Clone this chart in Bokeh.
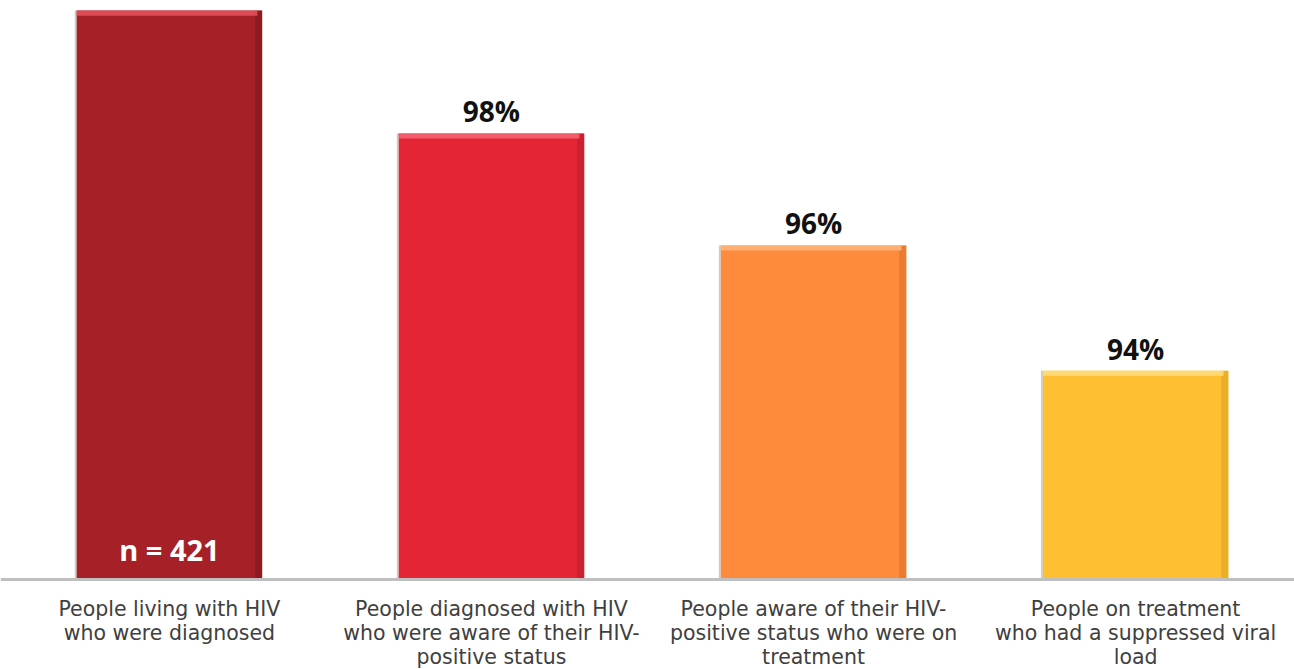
from bokeh.plotting import figure
from bokeh.models import Range1d, ColumnDataSource
from bokeh.core.properties import value
from bokeh.embed import file_html
from bokeh.resources import INLINE

# ---- data ----
categories = [
    "People living with HIV\nwho were diagnosed",
    "People diagnosed with HIV\nwho were aware of their HIV-\npositive status",
    "People aware of their HIV-\npositive status who were on\ntreatment",
    "People on treatment\nwho had a suppressed viral\nload",
]
bar_heights = [100.0, 78.4, 58.7, 36.7]  # relative bar heights
value_labels = ["", "98%", "96%", "94%"]
n_label = "n = 421"
colors = ["#A52027", "#E42536", "#FE8A3B", "#FFBF33"]
edge_light = ["#E0505A", "#F26470", "#FFB27A", "#FFDC7A"]
edge_dark = ["#7E171C", "#B81C2A", "#D9702A", "#D9A020"]

W, H = 1294, 669
FONT = "Open Sans"
LFONT = "DejaVu Sans"

xs = list(range(len(categories)))
bw = 0.576

p = figure(width=W, height=H, output_backend="svg", toolbar_location=None,
           x_range=Range1d(-0.5244, 3.4933), y_range=Range1d(-15.82, 101.76),
           min_border=0, min_border_left=0, min_border_right=0,
           min_border_top=0, min_border_bottom=0)
p.axis.visible = False
p.grid.visible = False
p.outline_line_color = None
p.background_fill_color = "white"
p.border_fill_color = "white"

src = ColumnDataSource(dict(x=xs, top=bar_heights, color=colors))

# soft shadow on left edge
p.quad(left=[x - bw / 2 - 0.006 for x in xs], right=[x - bw / 2 for x in xs],
       bottom=0, top=bar_heights, fill_color="#9A9A9A", fill_alpha=0.5, line_color=None)
# main bars
p.vbar(x="x", top="top", bottom=0, width=bw, fill_color="color", line_color=None, source=src)
# right darker bevel
p.quad(left=[x + bw / 2 - 0.022 for x in xs], right=[x + bw / 2 for x in xs],
       bottom=0, top=bar_heights, fill_color=edge_dark, fill_alpha=0.55, line_color=None)
# top lighter bevel
p.quad(left=[x - bw / 2 for x in xs], right=[x + bw / 2 - 0.015 for x in xs],
       bottom=[h - 0.9 for h in bar_heights], top=bar_heights,
       fill_color=edge_light, fill_alpha=0.9, line_color=None)

# baseline
p.segment(x0=[-0.5244], x1=[3.4933], y0=[0], y1=[0], line_color="#BFBFBF", line_width=3)

# value labels above bars
vx = [x for x, t in zip(xs, value_labels) if t]
vy = [h + 0.55 for h, t in zip(bar_heights, value_labels) if t]
vt = [t for t in value_labels if t]
p.text(x=vx, y=vy, text=vt, text_font=value(FONT), text_font_style="bold",
       text_font_size="28px", text_color="#111111", text_align="center",
       text_baseline="bottom")

# n label inside first bar
p.text(x=[xs[0]], y=[bar_heights[0] * 0.052], text=[n_label], text_font=value(FONT),
       text_font_style="bold", text_font_size="29px", text_color="white",
       text_align="center", text_baseline="middle")

# category labels
p.text(x=xs, y=[-3.1] * len(xs), text=categories, text_font=value(LFONT),
       text_font_size="20.5px", text_color="#404040", text_align="center",
       text_baseline="top", text_line_height=1.0)

open("out.html", "w").write(file_html(p, INLINE))
